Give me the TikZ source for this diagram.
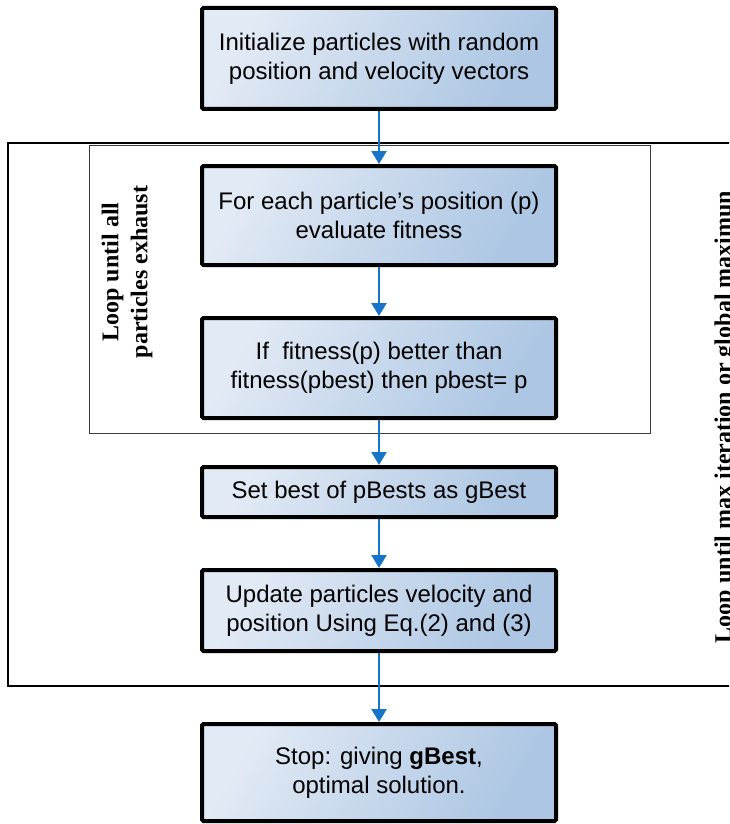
\documentclass[tikz,border=0pt]{standalone}
\usepackage{fontspec}
\setmainfont{Liberation Sans}
\newfontfamily\serifbold{Liberation Serif}[BoldFont={Liberation Serif Bold}]
\usetikzlibrary{arrows.meta}

\definecolor{boxlight}{HTML}{E2EAF5}
\definecolor{boxdark}{HTML}{ACC6E3}
\definecolor{flowblue}{HTML}{1874C8}
\definecolor{framegray}{HTML}{3A3A3A}

\tikzset{
  stepbox/.style={draw=black, line width=4pt, rounded corners=1.5pt,
    top color=boxlight, bottom color=boxdark, shading angle=60,
    minimum width=354pt, align=center, inner sep=0pt,
    font=\fontsize{24}{29}\selectfont},
  flow/.style={draw=flowblue, line width=2.5pt,
    -{Triangle[width=15pt,length=13pt]}},
  looplabel/.style={rotate=90, align=center, inner sep=0pt,
    font=\serifbold\bfseries\fontsize{24}{29}\selectfont},
}

\begin{document}
\begin{tikzpicture}[x=1pt, y=-1pt]
  \useasboundingbox (0,0) rectangle (729,824);
  \clip (0,0) rectangle (729,824);

  % outer loop frame (runs past the right edge) and inner loop frame
  \draw[line width=2.2pt] (760,143) -- (8,143) -- (8,686) -- (760,686);
  \draw[draw=framegray, line width=1pt] (89,145) rectangle (650,433);

  % loop labels
  \node[looplabel] (innerlabel) at (127,272) {Loop until all\\particles exhaust};
  \node[looplabel, anchor=base] (outerlabel) at (731,417)
    {Loop until max iteration or global maximun};

  % process steps
  \node[stepbox, minimum height=101pt] (init)   at (379,58.5)
    {Initialize particles with random\\position and velocity vectors};
  \node[stepbox, minimum height=99pt]  (eval)   at (379,215.5)
    {For each particle’s position (p)\\evaluate fitness};
  \node[stepbox, minimum height=100pt] (pbest)  at (379,368)
    {If\ \ fitness(p) better than\\fitness(pbest) then pbest= p};
  \node[stepbox, minimum height=50pt]  (gbest)  at (379,492)
    {Set best of pBests as gBest};
  \node[stepbox, minimum height=81pt]  (update) at (379,610.5)
    {Update particles velocity and\\position Using Eq.(2) and (3)};
  \node[stepbox, minimum height=97pt]  (stop)   at (379,772.5)
    {Stop: giving \textbf{gBest},\\optimal solution.};

  % connectors
  \draw[flow] (init)   -- (eval);
  \draw[flow] (eval)   -- (pbest);
  \draw[flow] (pbest)  -- (gbest);
  \draw[flow] (gbest)  -- (update);
  \draw[flow] (update) -- (stop);
\end{tikzpicture}
\end{document}
